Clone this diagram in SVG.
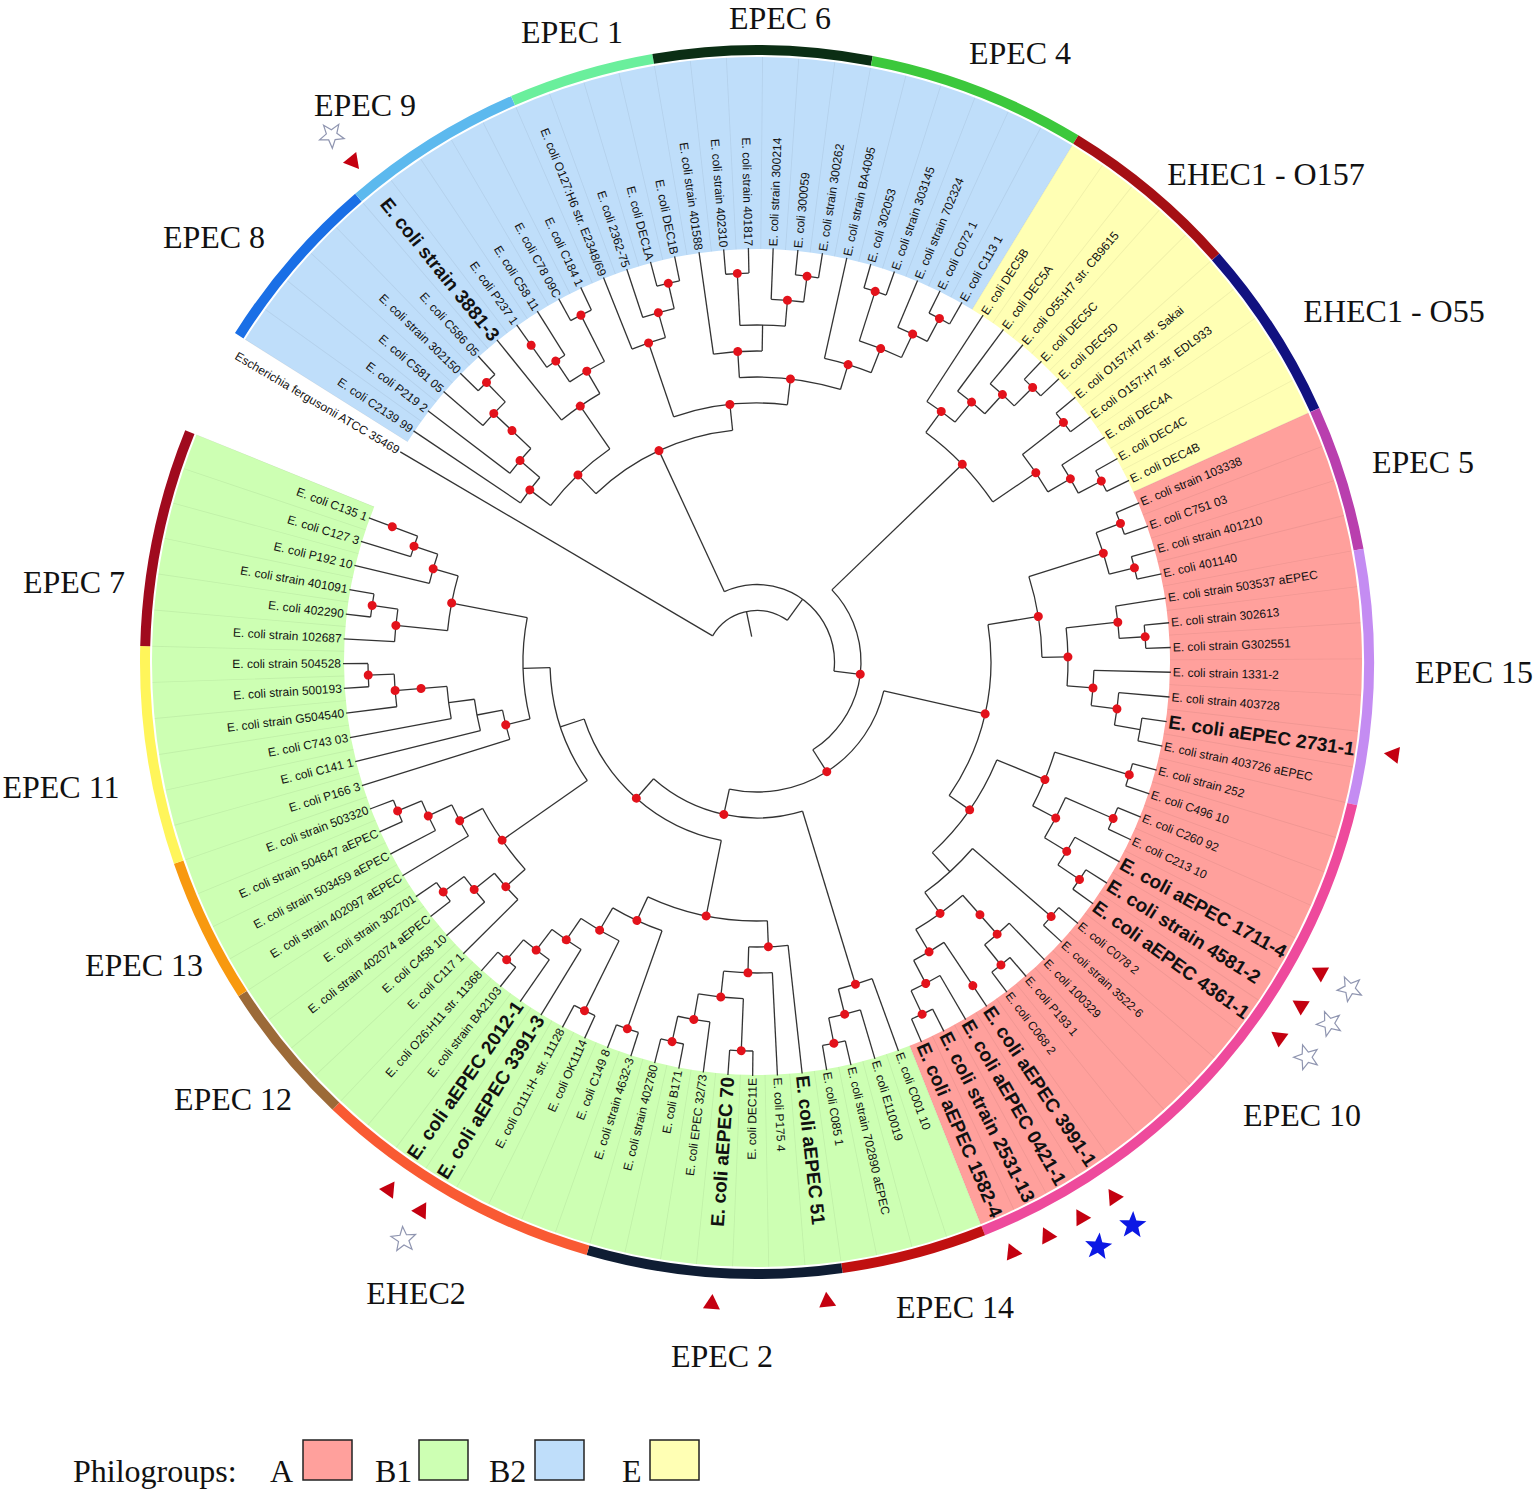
<svg xmlns="http://www.w3.org/2000/svg" xmlns:xlink="http://www.w3.org/1999/xlink" width="1535" height="1494" viewBox="0 0 1535 1494">
<style>
.t{font-family:'Liberation Sans',Arial,sans-serif;font-size:12px;fill:#111;dominant-baseline:central}
.b{font-weight:bold;font-size:19px}
.e{text-anchor:end}
.big{font-family:'Liberation Serif','Times New Roman',serif;font-size:32px;fill:#111;text-anchor:middle}
.w{fill:none;stroke-width:192}
.bar{fill:none;stroke-width:10}
</style>
<defs>
<polygon id="tri" points="-7.5,0 7.5,-8.5 7.5,8.5"/>
<polygon id="star" points="13,0 4.45,3.23 4.02,12.36 -1.7,5.23 -10.52,7.64 -5.5,0 -10.52,-7.64 -1.7,-5.23 4.02,-12.36 4.45,-3.23"/>
</defs>
<rect width="1535" height="1494" fill="#fff"/>
<g transform="translate(757 662)">
<g id="philogroup-wedges">
<circle class="w" r="509" stroke="#bfdefa" pathLength="360" stroke-dasharray="89.18 360" transform="rotate(212.215)"/>
<circle class="w" r="509" stroke="#ffffb4" pathLength="360" stroke-dasharray="34.3 360" transform="rotate(301.395)"/>
<circle class="w" r="509" stroke="#ffa09c" pathLength="360" stroke-dasharray="92.61 360" transform="rotate(335.695)"/>
<circle class="w" r="509" stroke="#cdffb3" pathLength="360" stroke-dasharray="133.77 360" transform="rotate(428.305)"/>
<circle class="w" r="509" stroke="#000" stroke-opacity="0.06" pathLength="360" stroke-dasharray="0.1 3.33" transform="rotate(212.165)"/>
<circle r="509" fill="none" stroke="#fff" stroke-width="194" pathLength="360" stroke-dasharray="10.05 360" transform="rotate(202.12)"/>
</g>
<g id="serotype-ring">
<circle class="bar" r="612" stroke="#1a6fe6" pathLength="360" stroke-dasharray="17.15 360" transform="rotate(212.215)"/>
<circle class="bar" r="612" stroke="#5cb9ee" pathLength="360" stroke-dasharray="17.15 360" transform="rotate(229.365)"/>
<circle class="bar" r="612" stroke="#6aef9c" pathLength="360" stroke-dasharray="13.72 360" transform="rotate(246.515)"/>
<circle class="bar" r="612" stroke="#0b2e14" pathLength="360" stroke-dasharray="20.58 360" transform="rotate(260.235)"/>
<circle class="bar" r="612" stroke="#3cc83c" pathLength="360" stroke-dasharray="20.58 360" transform="rotate(280.815)"/>
<circle class="bar" r="612" stroke="#a50f14" pathLength="360" stroke-dasharray="17.15 360" transform="rotate(301.395)"/>
<circle class="bar" r="612" stroke="#111180" pathLength="360" stroke-dasharray="17.15 360" transform="rotate(318.545)"/>
<circle class="bar" r="612" stroke="#b93fae" pathLength="360" stroke-dasharray="13.72 360" transform="rotate(335.695)"/>
<circle class="bar" r="612" stroke="#c48cf2" pathLength="360" stroke-dasharray="24.01 360" transform="rotate(349.415)"/>
<circle class="bar" r="612" stroke="#ee4a9c" pathLength="360" stroke-dasharray="54.88 360" transform="rotate(373.425)"/>
<circle class="bar" r="612" stroke="#c01010" pathLength="360" stroke-dasharray="13.72 360" transform="rotate(428.305)"/>
<circle class="bar" r="612" stroke="#0f1d33" pathLength="360" stroke-dasharray="24.01 360" transform="rotate(442.025)"/>
<circle class="bar" r="612" stroke="#f95a33" pathLength="360" stroke-dasharray="27.44 360" transform="rotate(466.035)"/>
<circle class="bar" r="612" stroke="#9c6a38" pathLength="360" stroke-dasharray="13.72 360" transform="rotate(493.475)"/>
<circle class="bar" r="612" stroke="#f8990f" pathLength="360" stroke-dasharray="13.72 360" transform="rotate(507.195)"/>
<circle class="bar" r="612" stroke="#fff55a" pathLength="360" stroke-dasharray="20.58 360" transform="rotate(520.915)"/>
<circle class="bar" r="612" stroke="#a00a1e" pathLength="360" stroke-dasharray="20.58 360" transform="rotate(541.495)"/>
</g>
<g id="connectors" fill="none" stroke="#333" stroke-width="1.3">
<circle r="51.5" pathLength="360" stroke-dasharray="95.47 360" transform="rotate(210.5)"/>
<line x1="26" x2="51.5" transform="rotate(258.23)"/>
<line x1="51.5" x2="414" transform="rotate(210.5)"/>
<line x1="51.5" x2="77.5" transform="rotate(305.97)"/>
<circle r="77.5" pathLength="360" stroke-dasharray="121.69 360" transform="rotate(245.12)"/>
<line x1="77.5" x2="233" transform="rotate(245.12)"/>
<line x1="77.5" x2="104" transform="rotate(366.81)"/>
<circle r="104" pathLength="360" stroke-dasharray="101.46 360" transform="rotate(316.08)"/>
<line x1="104" x2="285" transform="rotate(316.08)"/>
<line x1="104" x2="130" transform="rotate(417.54)"/>
<circle r="130" pathLength="360" stroke-dasharray="89.47 360" transform="rotate(372.81)"/>
<line x1="130" x2="234" transform="rotate(372.81)"/>
<line x1="130" x2="156" transform="rotate(462.28)"/>
<circle r="156" pathLength="360" stroke-dasharray="58.51 360" transform="rotate(433.02)"/>
<line x1="156" x2="337" transform="rotate(433.02)"/>
<line x1="156" x2="182" transform="rotate(491.53)"/>
<circle r="182" pathLength="360" stroke-dasharray="60.43 360" transform="rotate(461.32)"/>
<line x1="182" x2="259" transform="rotate(461.32)"/>
<line x1="182" x2="207" transform="rotate(521.75)"/>
<circle r="207" pathLength="360" stroke-dasharray="33.39 360" transform="rotate(505.05)"/>
<line x1="207" x2="311" transform="rotate(505.05)"/>
<line x1="207" x2="234" transform="rotate(538.44)"/>
<circle r="234" pathLength="360" stroke-dasharray="24.98 360" transform="rotate(525.95)"/>
<line x1="234" x2="259" transform="rotate(525.95)"/>
<line x1="234" x2="311" transform="rotate(550.93)"/>
<circle r="259" pathLength="360" stroke-dasharray="6.65 360" transform="rotate(522.63)"/>
<line x1="259" x2="414" transform="rotate(522.63)"/>
<line x1="259" x2="285" transform="rotate(529.28)"/>
<circle r="285" pathLength="360" stroke-dasharray="6.43 360" transform="rotate(526.06)"/>
<line x1="285" x2="414" transform="rotate(526.06)"/>
<line x1="285" x2="311" transform="rotate(532.49)"/>
<circle r="311" pathLength="360" stroke-dasharray="6 360" transform="rotate(529.49)"/>
<line x1="311" x2="414" transform="rotate(529.49)"/>
<line x1="311" x2="363" transform="rotate(535.49)"/>
<circle r="363" pathLength="360" stroke-dasharray="5.15 360" transform="rotate(532.92)"/>
<line x1="363" x2="414" transform="rotate(532.92)"/>
<line x1="363" x2="389" transform="rotate(538.07)"/>
<circle r="389" pathLength="360" stroke-dasharray="3.43 360" transform="rotate(536.35)"/>
<line x1="389" x2="414" transform="rotate(536.35)"/>
<line x1="389" x2="414" transform="rotate(539.78)"/>
<circle r="311" pathLength="360" stroke-dasharray="10.29 360" transform="rotate(545.78)"/>
<line x1="311" x2="363" transform="rotate(545.78)"/>
<line x1="311" x2="337" transform="rotate(556.07)"/>
<circle r="363" pathLength="360" stroke-dasharray="5.15 360" transform="rotate(543.21)"/>
<line x1="363" x2="414" transform="rotate(543.21)"/>
<line x1="363" x2="389" transform="rotate(548.36)"/>
<circle r="389" pathLength="360" stroke-dasharray="3.43 360" transform="rotate(546.64)"/>
<line x1="389" x2="414" transform="rotate(546.64)"/>
<line x1="389" x2="414" transform="rotate(550.07)"/>
<circle r="337" pathLength="360" stroke-dasharray="5.15 360" transform="rotate(553.5)"/>
<line x1="337" x2="414" transform="rotate(553.5)"/>
<line x1="337" x2="362" transform="rotate(558.65)"/>
<circle r="362" pathLength="360" stroke-dasharray="3.43 360" transform="rotate(556.93)"/>
<line x1="362" x2="414" transform="rotate(556.93)"/>
<line x1="362" x2="414" transform="rotate(560.36)"/>
<circle r="311" pathLength="360" stroke-dasharray="13.72 360" transform="rotate(498.19)"/>
<line x1="311" x2="337" transform="rotate(498.19)"/>
<line x1="311" x2="337" transform="rotate(511.91)"/>
<circle r="337" pathLength="360" stroke-dasharray="6 360" transform="rotate(495.19)"/>
<line x1="337" x2="414" transform="rotate(495.19)"/>
<line x1="337" x2="363" transform="rotate(501.19)"/>
<circle r="363" pathLength="360" stroke-dasharray="5.15 360" transform="rotate(498.62)"/>
<line x1="363" x2="414" transform="rotate(498.62)"/>
<line x1="363" x2="389" transform="rotate(503.77)"/>
<circle r="389" pathLength="360" stroke-dasharray="3.43 360" transform="rotate(502.05)"/>
<line x1="389" x2="414" transform="rotate(502.05)"/>
<line x1="389" x2="414" transform="rotate(505.48)"/>
<circle r="337" pathLength="360" stroke-dasharray="6 360" transform="rotate(508.91)"/>
<line x1="337" x2="414" transform="rotate(508.91)"/>
<line x1="337" x2="363" transform="rotate(514.91)"/>
<circle r="363" pathLength="360" stroke-dasharray="5.15 360" transform="rotate(512.34)"/>
<line x1="363" x2="414" transform="rotate(512.34)"/>
<line x1="363" x2="389" transform="rotate(517.49)"/>
<circle r="389" pathLength="360" stroke-dasharray="3.43 360" transform="rotate(515.77)"/>
<line x1="389" x2="414" transform="rotate(515.77)"/>
<line x1="389" x2="414" transform="rotate(519.2)"/>
<circle r="259" pathLength="360" stroke-dasharray="27.22 360" transform="rotate(447.71)"/>
<line x1="259" x2="285" transform="rotate(447.71)"/>
<line x1="259" x2="285" transform="rotate(474.93)"/>
<circle r="285" pathLength="360" stroke-dasharray="7.93 360" transform="rotate(443.74)"/>
<line x1="285" x2="414" transform="rotate(443.74)"/>
<line x1="285" x2="311" transform="rotate(451.67)"/>
<circle r="311" pathLength="360" stroke-dasharray="9 360" transform="rotate(447.17)"/>
<line x1="311" x2="414" transform="rotate(447.17)"/>
<line x1="311" x2="337" transform="rotate(456.17)"/>
<circle r="337" pathLength="360" stroke-dasharray="7.71 360" transform="rotate(452.32)"/>
<line x1="337" x2="389" transform="rotate(452.32)"/>
<line x1="337" x2="363" transform="rotate(460.03)"/>
<circle r="389" pathLength="360" stroke-dasharray="3.43 360" transform="rotate(450.6)"/>
<line x1="389" x2="414" transform="rotate(450.6)"/>
<line x1="389" x2="414" transform="rotate(454.03)"/>
<circle r="363" pathLength="360" stroke-dasharray="5.15 360" transform="rotate(457.46)"/>
<line x1="363" x2="414" transform="rotate(457.46)"/>
<line x1="363" x2="389" transform="rotate(462.61)"/>
<circle r="389" pathLength="360" stroke-dasharray="3.43 360" transform="rotate(460.89)"/>
<line x1="389" x2="414" transform="rotate(460.89)"/>
<line x1="389" x2="414" transform="rotate(464.32)"/>
<circle r="285" pathLength="360" stroke-dasharray="10.93 360" transform="rotate(469.47)"/>
<line x1="285" x2="389" transform="rotate(469.47)"/>
<line x1="285" x2="311" transform="rotate(480.4)"/>
<circle r="389" pathLength="360" stroke-dasharray="3.43 360" transform="rotate(467.75)"/>
<line x1="389" x2="414" transform="rotate(467.75)"/>
<line x1="389" x2="414" transform="rotate(471.18)"/>
<circle r="311" pathLength="360" stroke-dasharray="8.14 360" transform="rotate(476.33)"/>
<line x1="311" x2="389" transform="rotate(476.33)"/>
<line x1="311" x2="337" transform="rotate(484.47)"/>
<circle r="389" pathLength="360" stroke-dasharray="3.43 360" transform="rotate(474.61)"/>
<line x1="389" x2="414" transform="rotate(474.61)"/>
<line x1="389" x2="414" transform="rotate(478.04)"/>
<circle r="337" pathLength="360" stroke-dasharray="6 360" transform="rotate(481.47)"/>
<line x1="337" x2="414" transform="rotate(481.47)"/>
<line x1="337" x2="363" transform="rotate(487.47)"/>
<circle r="363" pathLength="360" stroke-dasharray="5.15 360" transform="rotate(484.9)"/>
<line x1="363" x2="414" transform="rotate(484.9)"/>
<line x1="363" x2="389" transform="rotate(490.05)"/>
<circle r="389" pathLength="360" stroke-dasharray="3.43 360" transform="rotate(488.33)"/>
<line x1="389" x2="414" transform="rotate(488.33)"/>
<line x1="389" x2="414" transform="rotate(491.76)"/>
<circle r="337" pathLength="360" stroke-dasharray="6 360" transform="rotate(430.02)"/>
<line x1="337" x2="414" transform="rotate(430.02)"/>
<line x1="337" x2="363" transform="rotate(436.02)"/>
<circle r="363" pathLength="360" stroke-dasharray="5.15 360" transform="rotate(433.45)"/>
<line x1="363" x2="414" transform="rotate(433.45)"/>
<line x1="363" x2="389" transform="rotate(438.6)"/>
<circle r="389" pathLength="360" stroke-dasharray="3.43 360" transform="rotate(436.88)"/>
<line x1="389" x2="414" transform="rotate(436.88)"/>
<line x1="389" x2="414" transform="rotate(440.31)"/>
<circle r="234" pathLength="360" stroke-dasharray="44 360" transform="rotate(350.81)"/>
<line x1="234" x2="285" transform="rotate(350.81)"/>
<line x1="234" x2="259" transform="rotate(394.81)"/>
<circle r="285" pathLength="360" stroke-dasharray="16.5 360" transform="rotate(342.56)"/>
<line x1="285" x2="363" transform="rotate(342.56)"/>
<line x1="285" x2="311" transform="rotate(359.06)"/>
<circle r="363" pathLength="360" stroke-dasharray="6.86 360" transform="rotate(339.13)"/>
<line x1="363" x2="389" transform="rotate(339.13)"/>
<line x1="363" x2="389" transform="rotate(345.99)"/>
<circle r="389" pathLength="360" stroke-dasharray="3.43 360" transform="rotate(337.41)"/>
<line x1="389" x2="414" transform="rotate(337.41)"/>
<line x1="389" x2="414" transform="rotate(340.84)"/>
<circle r="389" pathLength="360" stroke-dasharray="3.43 360" transform="rotate(344.27)"/>
<line x1="389" x2="414" transform="rotate(344.27)"/>
<line x1="389" x2="414" transform="rotate(347.7)"/>
<circle r="311" pathLength="360" stroke-dasharray="10.72 360" transform="rotate(353.7)"/>
<line x1="311" x2="363" transform="rotate(353.7)"/>
<line x1="311" x2="337" transform="rotate(364.42)"/>
<circle r="363" pathLength="360" stroke-dasharray="5.15 360" transform="rotate(351.13)"/>
<line x1="363" x2="414" transform="rotate(351.13)"/>
<line x1="363" x2="389" transform="rotate(356.28)"/>
<circle r="389" pathLength="360" stroke-dasharray="3.43 360" transform="rotate(354.56)"/>
<line x1="389" x2="414" transform="rotate(354.56)"/>
<line x1="389" x2="414" transform="rotate(357.99)"/>
<circle r="337" pathLength="360" stroke-dasharray="6 360" transform="rotate(361.42)"/>
<line x1="337" x2="414" transform="rotate(361.42)"/>
<line x1="337" x2="363" transform="rotate(367.42)"/>
<circle r="363" pathLength="360" stroke-dasharray="5.15 360" transform="rotate(364.85)"/>
<line x1="363" x2="414" transform="rotate(364.85)"/>
<line x1="363" x2="389" transform="rotate(370)"/>
<circle r="389" pathLength="360" stroke-dasharray="3.43 360" transform="rotate(368.28)"/>
<line x1="389" x2="414" transform="rotate(368.28)"/>
<line x1="389" x2="414" transform="rotate(371.71)"/>
<circle r="259" pathLength="360" stroke-dasharray="25.19 360" transform="rotate(382.21)"/>
<line x1="259" x2="311" transform="rotate(382.21)"/>
<line x1="259" x2="285" transform="rotate(407.4)"/>
<circle r="311" pathLength="360" stroke-dasharray="10.71 360" transform="rotate(376.86)"/>
<line x1="311" x2="389" transform="rotate(376.86)"/>
<line x1="311" x2="337" transform="rotate(387.57)"/>
<circle r="389" pathLength="360" stroke-dasharray="3.43 360" transform="rotate(375.14)"/>
<line x1="389" x2="414" transform="rotate(375.14)"/>
<line x1="389" x2="414" transform="rotate(378.57)"/>
<circle r="337" pathLength="360" stroke-dasharray="7.71 360" transform="rotate(383.72)"/>
<line x1="337" x2="389" transform="rotate(383.72)"/>
<line x1="337" x2="363" transform="rotate(391.43)"/>
<circle r="389" pathLength="360" stroke-dasharray="3.43 360" transform="rotate(382)"/>
<line x1="389" x2="414" transform="rotate(382)"/>
<line x1="389" x2="414" transform="rotate(385.43)"/>
<circle r="363" pathLength="360" stroke-dasharray="5.14 360" transform="rotate(388.86)"/>
<line x1="363" x2="414" transform="rotate(388.86)"/>
<line x1="363" x2="389" transform="rotate(394)"/>
<circle r="389" pathLength="360" stroke-dasharray="3.43 360" transform="rotate(392.29)"/>
<line x1="389" x2="414" transform="rotate(392.29)"/>
<line x1="389" x2="414" transform="rotate(395.72)"/>
<circle r="285" pathLength="360" stroke-dasharray="13.07 360" transform="rotate(400.87)"/>
<line x1="285" x2="389" transform="rotate(400.87)"/>
<line x1="285" x2="311" transform="rotate(413.94)"/>
<circle r="389" pathLength="360" stroke-dasharray="3.43 360" transform="rotate(399.15)"/>
<line x1="389" x2="414" transform="rotate(399.15)"/>
<line x1="389" x2="414" transform="rotate(402.58)"/>
<circle r="311" pathLength="360" stroke-dasharray="10.72 360" transform="rotate(408.58)"/>
<line x1="311" x2="363" transform="rotate(408.58)"/>
<line x1="311" x2="337" transform="rotate(419.3)"/>
<circle r="363" pathLength="360" stroke-dasharray="5.15 360" transform="rotate(406.01)"/>
<line x1="363" x2="414" transform="rotate(406.01)"/>
<line x1="363" x2="389" transform="rotate(411.16)"/>
<circle r="389" pathLength="360" stroke-dasharray="3.43 360" transform="rotate(409.44)"/>
<line x1="389" x2="414" transform="rotate(409.44)"/>
<line x1="389" x2="414" transform="rotate(412.87)"/>
<circle r="337" pathLength="360" stroke-dasharray="6 360" transform="rotate(416.3)"/>
<line x1="337" x2="414" transform="rotate(416.3)"/>
<line x1="337" x2="363" transform="rotate(422.3)"/>
<circle r="363" pathLength="360" stroke-dasharray="5.15 360" transform="rotate(419.73)"/>
<line x1="363" x2="414" transform="rotate(419.73)"/>
<line x1="363" x2="389" transform="rotate(424.88)"/>
<circle r="389" pathLength="360" stroke-dasharray="3.43 360" transform="rotate(423.16)"/>
<line x1="389" x2="414" transform="rotate(423.16)"/>
<line x1="389" x2="414" transform="rotate(426.59)"/>
<circle r="285" pathLength="360" stroke-dasharray="19.5 360" transform="rotate(306.33)"/>
<line x1="285" x2="311" transform="rotate(306.33)"/>
<line x1="285" x2="337" transform="rotate(325.83)"/>
<circle r="311" pathLength="360" stroke-dasharray="6.43 360" transform="rotate(303.11)"/>
<line x1="311" x2="414" transform="rotate(303.11)"/>
<line x1="311" x2="337" transform="rotate(309.54)"/>
<circle r="337" pathLength="360" stroke-dasharray="6 360" transform="rotate(306.54)"/>
<line x1="337" x2="414" transform="rotate(306.54)"/>
<line x1="337" x2="363" transform="rotate(312.54)"/>
<circle r="363" pathLength="360" stroke-dasharray="5.15 360" transform="rotate(309.97)"/>
<line x1="363" x2="414" transform="rotate(309.97)"/>
<line x1="363" x2="389" transform="rotate(315.12)"/>
<circle r="389" pathLength="360" stroke-dasharray="3.43 360" transform="rotate(313.4)"/>
<line x1="389" x2="414" transform="rotate(313.4)"/>
<line x1="389" x2="414" transform="rotate(316.83)"/>
<circle r="337" pathLength="360" stroke-dasharray="7.71 360" transform="rotate(321.98)"/>
<line x1="337" x2="389" transform="rotate(321.98)"/>
<line x1="337" x2="363" transform="rotate(329.69)"/>
<circle r="389" pathLength="360" stroke-dasharray="3.43 360" transform="rotate(320.26)"/>
<line x1="389" x2="414" transform="rotate(320.26)"/>
<line x1="389" x2="414" transform="rotate(323.69)"/>
<circle r="363" pathLength="360" stroke-dasharray="5.15 360" transform="rotate(327.12)"/>
<line x1="363" x2="414" transform="rotate(327.12)"/>
<line x1="363" x2="389" transform="rotate(332.27)"/>
<circle r="389" pathLength="360" stroke-dasharray="3.43 360" transform="rotate(330.55)"/>
<line x1="389" x2="414" transform="rotate(330.55)"/>
<line x1="389" x2="414" transform="rotate(333.98)"/>
<circle r="233" pathLength="360" stroke-dasharray="37.73 360" transform="rotate(226.26)"/>
<line x1="233" x2="259" transform="rotate(226.26)"/>
<line x1="233" x2="259" transform="rotate(263.99)"/>
<circle r="259" pathLength="360" stroke-dasharray="18.22 360" transform="rotate(217.15)"/>
<line x1="259" x2="285" transform="rotate(217.15)"/>
<line x1="259" x2="311" transform="rotate(235.37)"/>
<circle r="285" pathLength="360" stroke-dasharray="6.43 360" transform="rotate(213.93)"/>
<line x1="285" x2="414" transform="rotate(213.93)"/>
<line x1="285" x2="311" transform="rotate(220.36)"/>
<circle r="311" pathLength="360" stroke-dasharray="6 360" transform="rotate(217.36)"/>
<line x1="311" x2="414" transform="rotate(217.36)"/>
<line x1="311" x2="362" transform="rotate(223.36)"/>
<circle r="362" pathLength="360" stroke-dasharray="5.15 360" transform="rotate(220.79)"/>
<line x1="362" x2="414" transform="rotate(220.79)"/>
<line x1="362" x2="389" transform="rotate(225.94)"/>
<circle r="389" pathLength="360" stroke-dasharray="3.43 360" transform="rotate(224.22)"/>
<line x1="389" x2="414" transform="rotate(224.22)"/>
<line x1="389" x2="414" transform="rotate(227.65)"/>
<circle r="311" pathLength="360" stroke-dasharray="8.58 360" transform="rotate(231.08)"/>
<line x1="311" x2="414" transform="rotate(231.08)"/>
<line x1="311" x2="337" transform="rotate(239.66)"/>
<circle r="337" pathLength="360" stroke-dasharray="6.86 360" transform="rotate(236.23)"/>
<line x1="337" x2="362" transform="rotate(236.23)"/>
<line x1="337" x2="389" transform="rotate(243.09)"/>
<circle r="362" pathLength="360" stroke-dasharray="3.43 360" transform="rotate(234.51)"/>
<line x1="362" x2="414" transform="rotate(234.51)"/>
<line x1="362" x2="414" transform="rotate(237.94)"/>
<circle r="389" pathLength="360" stroke-dasharray="3.43 360" transform="rotate(241.37)"/>
<line x1="389" x2="414" transform="rotate(241.37)"/>
<line x1="389" x2="414" transform="rotate(244.8)"/>
<circle r="259" pathLength="360" stroke-dasharray="25.51 360" transform="rotate(251.23)"/>
<line x1="259" x2="337" transform="rotate(251.23)"/>
<line x1="259" x2="285" transform="rotate(276.74)"/>
<circle r="337" pathLength="360" stroke-dasharray="6 360" transform="rotate(248.23)"/>
<line x1="337" x2="414" transform="rotate(248.23)"/>
<line x1="337" x2="363" transform="rotate(254.23)"/>
<circle r="363" pathLength="360" stroke-dasharray="5.15 360" transform="rotate(251.66)"/>
<line x1="363" x2="414" transform="rotate(251.66)"/>
<line x1="363" x2="389" transform="rotate(256.81)"/>
<circle r="389" pathLength="360" stroke-dasharray="3.43 360" transform="rotate(255.09)"/>
<line x1="389" x2="414" transform="rotate(255.09)"/>
<line x1="389" x2="414" transform="rotate(258.52)"/>
<circle r="285" pathLength="360" stroke-dasharray="20.58 360" transform="rotate(266.45)"/>
<line x1="285" x2="311" transform="rotate(266.45)"/>
<line x1="285" x2="311" transform="rotate(287.03)"/>
<circle r="311" pathLength="360" stroke-dasharray="9 360" transform="rotate(261.95)"/>
<line x1="311" x2="414" transform="rotate(261.95)"/>
<line x1="311" x2="337" transform="rotate(270.95)"/>
<circle r="337" pathLength="360" stroke-dasharray="7.71 360" transform="rotate(267.1)"/>
<line x1="337" x2="389" transform="rotate(267.1)"/>
<line x1="337" x2="363" transform="rotate(274.81)"/>
<circle r="389" pathLength="360" stroke-dasharray="3.43 360" transform="rotate(265.38)"/>
<line x1="389" x2="414" transform="rotate(265.38)"/>
<line x1="389" x2="414" transform="rotate(268.81)"/>
<circle r="363" pathLength="360" stroke-dasharray="5.15 360" transform="rotate(272.24)"/>
<line x1="363" x2="414" transform="rotate(272.24)"/>
<line x1="363" x2="389" transform="rotate(277.39)"/>
<circle r="389" pathLength="360" stroke-dasharray="3.43 360" transform="rotate(275.67)"/>
<line x1="389" x2="414" transform="rotate(275.67)"/>
<line x1="389" x2="414" transform="rotate(279.1)"/>
<circle r="311" pathLength="360" stroke-dasharray="9 360" transform="rotate(282.53)"/>
<line x1="311" x2="414" transform="rotate(282.53)"/>
<line x1="311" x2="337" transform="rotate(291.53)"/>
<circle r="337" pathLength="360" stroke-dasharray="7.71 360" transform="rotate(287.68)"/>
<line x1="337" x2="389" transform="rotate(287.68)"/>
<line x1="337" x2="363" transform="rotate(295.39)"/>
<circle r="389" pathLength="360" stroke-dasharray="3.43 360" transform="rotate(285.96)"/>
<line x1="389" x2="414" transform="rotate(285.96)"/>
<line x1="389" x2="414" transform="rotate(289.39)"/>
<circle r="363" pathLength="360" stroke-dasharray="5.15 360" transform="rotate(292.82)"/>
<line x1="363" x2="414" transform="rotate(292.82)"/>
<line x1="363" x2="389" transform="rotate(297.97)"/>
<circle r="389" pathLength="360" stroke-dasharray="3.43 360" transform="rotate(296.25)"/>
<line x1="389" x2="414" transform="rotate(296.25)"/>
<line x1="389" x2="414" transform="rotate(299.68)"/>
</g>
<g id="support-dots" fill="#e3121b">
<circle cx="104" r="4.5" transform="rotate(366.81)"/>
<circle cx="130" r="4.5" transform="rotate(417.54)"/>
<circle cx="156" r="4.5" transform="rotate(462.28)"/>
<circle cx="182" r="4.5" transform="rotate(491.53)"/>
<circle cx="259" r="4.5" transform="rotate(525.95)"/>
<circle cx="363" r="4.5" transform="rotate(535.49)"/>
<circle cx="337" r="4.5" transform="rotate(535.49)"/>
<circle cx="389" r="4.5" transform="rotate(538.07)"/>
<circle cx="311" r="4.5" transform="rotate(550.93)"/>
<circle cx="363" r="4.5" transform="rotate(545.78)"/>
<circle cx="389" r="4.5" transform="rotate(548.36)"/>
<circle cx="337" r="4.5" transform="rotate(556.07)"/>
<circle cx="362" r="4.5" transform="rotate(558.65)"/>
<circle cx="389" r="4.5" transform="rotate(560.36)"/>
<circle cx="311" r="4.5" transform="rotate(505.05)"/>
<circle cx="337" r="4.5" transform="rotate(498.19)"/>
<circle cx="363" r="4.5" transform="rotate(501.19)"/>
<circle cx="389" r="4.5" transform="rotate(503.77)"/>
<circle cx="337" r="4.5" transform="rotate(511.91)"/>
<circle cx="363" r="4.5" transform="rotate(514.91)"/>
<circle cx="389" r="4.5" transform="rotate(517.49)"/>
<circle cx="259" r="4.5" transform="rotate(461.32)"/>
<circle cx="285" r="4.5" transform="rotate(447.71)"/>
<circle cx="311" r="4.5" transform="rotate(451.67)"/>
<circle cx="337" r="4.5" transform="rotate(456.17)"/>
<circle cx="389" r="4.5" transform="rotate(452.32)"/>
<circle cx="363" r="4.5" transform="rotate(460.03)"/>
<circle cx="389" r="4.5" transform="rotate(462.61)"/>
<circle cx="285" r="4.5" transform="rotate(474.93)"/>
<circle cx="389" r="4.5" transform="rotate(469.47)"/>
<circle cx="311" r="4.5" transform="rotate(480.4)"/>
<circle cx="389" r="4.5" transform="rotate(476.33)"/>
<circle cx="337" r="4.5" transform="rotate(484.47)"/>
<circle cx="363" r="4.5" transform="rotate(487.47)"/>
<circle cx="389" r="4.5" transform="rotate(490.05)"/>
<circle cx="337" r="4.5" transform="rotate(433.02)"/>
<circle cx="363" r="4.5" transform="rotate(436.02)"/>
<circle cx="389" r="4.5" transform="rotate(438.6)"/>
<circle cx="234" r="4.5" transform="rotate(372.81)"/>
<circle cx="285" r="4.5" transform="rotate(350.81)"/>
<circle cx="363" r="4.5" transform="rotate(342.56)"/>
<circle cx="389" r="4.5" transform="rotate(339.13)"/>
<circle cx="389" r="4.5" transform="rotate(345.99)"/>
<circle cx="311" r="4.5" transform="rotate(359.06)"/>
<circle cx="363" r="4.5" transform="rotate(353.7)"/>
<circle cx="389" r="4.5" transform="rotate(356.28)"/>
<circle cx="337" r="4.5" transform="rotate(364.42)"/>
<circle cx="363" r="4.5" transform="rotate(367.42)"/>
<circle cx="259" r="4.5" transform="rotate(394.81)"/>
<circle cx="311" r="4.5" transform="rotate(382.21)"/>
<circle cx="389" r="4.5" transform="rotate(376.86)"/>
<circle cx="337" r="4.5" transform="rotate(387.57)"/>
<circle cx="389" r="4.5" transform="rotate(383.72)"/>
<circle cx="363" r="4.5" transform="rotate(391.43)"/>
<circle cx="389" r="4.5" transform="rotate(394)"/>
<circle cx="389" r="4.5" transform="rotate(400.87)"/>
<circle cx="311" r="4.5" transform="rotate(413.94)"/>
<circle cx="363" r="4.5" transform="rotate(408.58)"/>
<circle cx="337" r="4.5" transform="rotate(408.58)"/>
<circle cx="389" r="4.5" transform="rotate(411.16)"/>
<circle cx="337" r="4.5" transform="rotate(419.3)"/>
<circle cx="389" r="4.5" transform="rotate(416.3)"/>
<circle cx="363" r="4.5" transform="rotate(422.3)"/>
<circle cx="389" r="4.5" transform="rotate(424.88)"/>
<circle cx="285" r="4.5" transform="rotate(316.08)"/>
<circle cx="311" r="4.5" transform="rotate(306.33)"/>
<circle cx="337" r="4.5" transform="rotate(309.54)"/>
<circle cx="363" r="4.5" transform="rotate(312.54)"/>
<circle cx="389" r="4.5" transform="rotate(315.12)"/>
<circle cx="337" r="4.5" transform="rotate(325.83)"/>
<circle cx="389" r="4.5" transform="rotate(321.98)"/>
<circle cx="363" r="4.5" transform="rotate(329.69)"/>
<circle cx="389" r="4.5" transform="rotate(332.27)"/>
<circle cx="233" r="4.5" transform="rotate(245.12)"/>
<circle cx="259" r="4.5" transform="rotate(226.26)"/>
<circle cx="285" r="4.5" transform="rotate(217.15)"/>
<circle cx="311" r="4.5" transform="rotate(220.36)"/>
<circle cx="362" r="4.5" transform="rotate(223.36)"/>
<circle cx="337" r="4.5" transform="rotate(223.36)"/>
<circle cx="389" r="4.5" transform="rotate(225.94)"/>
<circle cx="311" r="4.5" transform="rotate(235.37)"/>
<circle cx="337" r="4.5" transform="rotate(239.66)"/>
<circle cx="362" r="4.5" transform="rotate(236.23)"/>
<circle cx="389" r="4.5" transform="rotate(234.51)"/>
<circle cx="389" r="4.5" transform="rotate(243.09)"/>
<circle cx="259" r="4.5" transform="rotate(263.99)"/>
<circle cx="337" r="4.5" transform="rotate(251.23)"/>
<circle cx="363" r="4.5" transform="rotate(254.23)"/>
<circle cx="389" r="4.5" transform="rotate(256.81)"/>
<circle cx="285" r="4.5" transform="rotate(276.74)"/>
<circle cx="311" r="4.5" transform="rotate(266.45)"/>
<circle cx="389" r="4.5" transform="rotate(267.1)"/>
<circle cx="363" r="4.5" transform="rotate(274.81)"/>
<circle cx="389" r="4.5" transform="rotate(277.39)"/>
<circle cx="311" r="4.5" transform="rotate(287.03)"/>
<circle cx="337" r="4.5" transform="rotate(291.53)"/>
<circle cx="389" r="4.5" transform="rotate(287.68)"/>
<circle cx="363" r="4.5" transform="rotate(295.39)"/>
<circle cx="389" r="4.5" transform="rotate(297.97)"/>
</g>
<g id="leaves">
<g id="leaf1"><text class="t e" x="-416" transform="rotate(30.5)">Escherichia fergusonii ATCC 35469</text></g>
<g id="leaf2"><text class="t e" x="-416" transform="rotate(33.93)">E. coli C2139 99</text></g>
<g id="leaf3"><text class="t e" x="-416" transform="rotate(37.36)">E. coli P219 2</text></g>
<g id="leaf4"><text class="t e" x="-416" transform="rotate(40.79)">E. coli C581 05</text></g>
<g id="leaf5"><text class="t e" x="-416" transform="rotate(44.22)">E. coli strain 302150</text></g>
<g id="leaf6"><text class="t e" x="-416" transform="rotate(47.65)">E. coli C586 05</text></g>
<g id="leaf7"><text class="t b e" x="-416" transform="rotate(51.08)">E. coli strain 3881-3</text></g>
<g id="leaf8"><text class="t e" x="-416" transform="rotate(54.51)">E. coli P237 1</text></g>
<g id="leaf9"><text class="t e" x="-416" transform="rotate(57.94)">E. coli C58 11</text></g>
<g id="leaf10"><text class="t e" x="-416" transform="rotate(61.37)">E. coli C78 09C</text></g>
<g id="leaf11"><text class="t e" x="-416" transform="rotate(64.8)">E. coli C184 1</text></g>
<g id="leaf12"><text class="t e" x="-416" transform="rotate(68.23)">E. coli O127:H6 str. E2348/69</text></g>
<g id="leaf13"><text class="t e" x="-416" transform="rotate(71.66)">E. coli 2362-75</text></g>
<g id="leaf14"><text class="t e" x="-416" transform="rotate(75.09)">E. coli DEC1A</text></g>
<g id="leaf15"><text class="t e" x="-416" transform="rotate(78.52)">E. coli DEC1B</text></g>
<g id="leaf16"><text class="t e" x="-416" transform="rotate(81.95)">E. coli strain 401588</text></g>
<g id="leaf17"><text class="t e" x="-416" transform="rotate(85.38)">E. coli strain 402310</text></g>
<g id="leaf18"><text class="t e" x="-416" transform="rotate(88.81)">E. coli strain 401817</text></g>
<g id="leaf19"><text class="t" x="416" transform="rotate(272.24)">E. coli strain 300214</text></g>
<g id="leaf20"><text class="t" x="416" transform="rotate(275.67)">E. coli 300059</text></g>
<g id="leaf21"><text class="t" x="416" transform="rotate(279.1)">E. coli strain 300262</text></g>
<g id="leaf22"><text class="t" x="416" transform="rotate(282.53)">E. coli strain BA4095</text></g>
<g id="leaf23"><text class="t" x="416" transform="rotate(285.96)">E. coli 302053</text></g>
<g id="leaf24"><text class="t" x="416" transform="rotate(289.39)">E. coli strain 303145</text></g>
<g id="leaf25"><text class="t" x="416" transform="rotate(292.82)">E. coli strain 702324</text></g>
<g id="leaf26"><text class="t" x="416" transform="rotate(296.25)">E. coli C072 1</text></g>
<g id="leaf27"><text class="t" x="416" transform="rotate(299.68)">E. coli C113 1</text></g>
<g id="leaf28"><text class="t" x="416" transform="rotate(303.11)">E. coli DEC5B</text></g>
<g id="leaf29"><text class="t" x="416" transform="rotate(306.54)">E. coli DEC5A</text></g>
<g id="leaf30"><text class="t" x="416" transform="rotate(309.97)">E. coli O55:H7 str. CB9615</text></g>
<g id="leaf31"><text class="t" x="416" transform="rotate(313.4)">E. coli DEC5C</text></g>
<g id="leaf32"><text class="t" x="416" transform="rotate(316.83)">E. coli DEC5D</text></g>
<g id="leaf33"><text class="t" x="416" transform="rotate(320.26)">E. coli O157:H7 str. Sakai</text></g>
<g id="leaf34"><text class="t" x="416" transform="rotate(323.69)">E.coli O157:H7 str. EDL933</text></g>
<g id="leaf35"><text class="t" x="416" transform="rotate(327.12)">E. coli DEC4A</text></g>
<g id="leaf36"><text class="t" x="416" transform="rotate(330.55)">E. coli DEC4C</text></g>
<g id="leaf37"><text class="t" x="416" transform="rotate(333.98)">E. coli DEC4B</text></g>
<g id="leaf38"><text class="t" x="416" transform="rotate(337.41)">E. coli strain 103338</text></g>
<g id="leaf39"><text class="t" x="416" transform="rotate(340.84)">E. coli C751 03</text></g>
<g id="leaf40"><text class="t" x="416" transform="rotate(344.27)">E. coli strain 401210</text></g>
<g id="leaf41"><text class="t" x="416" transform="rotate(347.7)">E. coli 401140</text></g>
<g id="leaf42"><text class="t" x="416" transform="rotate(351.13)">E. coli strain 503537 aEPEC</text></g>
<g id="leaf43"><text class="t" x="416" transform="rotate(354.56)">E. coli strain 302613</text></g>
<g id="leaf44"><text class="t" x="416" transform="rotate(357.99)">E. coli strain G302551</text></g>
<g id="leaf45"><text class="t" x="416" transform="rotate(361.42)">E. coli strain 1331-2</text></g>
<g id="leaf46"><text class="t" x="416" transform="rotate(364.85)">E. coli strain 403728</text></g>
<g id="leaf47"><text class="t b" x="416" transform="rotate(368.28)">E. coli aEPEC 2731-1</text></g>
<g id="leaf48"><text class="t" x="416" transform="rotate(371.71)">E. coli strain 403726 aEPEC</text></g>
<g id="leaf49"><text class="t" x="416" transform="rotate(375.14)">E. coli strain 252</text></g>
<g id="leaf50"><text class="t" x="416" transform="rotate(378.57)">E. coli C496 10</text></g>
<g id="leaf51"><text class="t" x="416" transform="rotate(382)">E. coli C260 92</text></g>
<g id="leaf52"><text class="t" x="416" transform="rotate(385.43)">E. coli C213 10</text></g>
<g id="leaf53"><text class="t b" x="416" transform="rotate(388.86)">E. coli aEPEC 1711-4</text></g>
<g id="leaf54"><text class="t b" x="416" transform="rotate(392.29)">E. coli strain 4581-2</text></g>
<g id="leaf55"><text class="t b" x="416" transform="rotate(395.72)">E. coli aEPEC 4361-1</text></g>
<g id="leaf56"><text class="t" x="416" transform="rotate(399.15)">E. coli C078 2</text></g>
<g id="leaf57"><text class="t" x="416" transform="rotate(402.58)">E. coli strain 3522-6</text></g>
<g id="leaf58"><text class="t" x="416" transform="rotate(406.01)">E. coli 100329</text></g>
<g id="leaf59"><text class="t" x="416" transform="rotate(409.44)">E. coli P193 1</text></g>
<g id="leaf60"><text class="t" x="416" transform="rotate(412.87)">E. coli C068 2</text></g>
<g id="leaf61"><text class="t b" x="416" transform="rotate(416.3)">E. coli aEPEC 3991-1</text></g>
<g id="leaf62"><text class="t b" x="416" transform="rotate(419.73)">E. coli aEPEC 0421-1</text></g>
<g id="leaf63"><text class="t b" x="416" transform="rotate(423.16)">E. coli strain 2531-13</text></g>
<g id="leaf64"><text class="t b" x="416" transform="rotate(426.59)">E. coli aEPEC 1582-4</text></g>
<g id="leaf65"><text class="t" x="416" transform="rotate(430.02)">E. coli C001 10</text></g>
<g id="leaf66"><text class="t" x="416" transform="rotate(433.45)">E. coli E110019</text></g>
<g id="leaf67"><text class="t" x="416" transform="rotate(436.88)">E. coli strain 702890 aEPEC</text></g>
<g id="leaf68"><text class="t" x="416" transform="rotate(440.31)">E. coli C085 1</text></g>
<g id="leaf69"><text class="t b" x="416" transform="rotate(443.74)">E. coli aEPEC 51</text></g>
<g id="leaf70"><text class="t" x="416" transform="rotate(447.17)">E. coli P175 4</text></g>
<g id="leaf71"><text class="t e" x="-416" transform="rotate(270.6)">E. coli DEC11E</text></g>
<g id="leaf72"><text class="t b e" x="-416" transform="rotate(274.03)">E. coli aEPEC 70</text></g>
<g id="leaf73"><text class="t e" x="-416" transform="rotate(277.46)">E. coli EPEC 32/73</text></g>
<g id="leaf74"><text class="t e" x="-416" transform="rotate(280.89)">E. coli B171</text></g>
<g id="leaf75"><text class="t e" x="-416" transform="rotate(284.32)">E. coli strain 402780</text></g>
<g id="leaf76"><text class="t e" x="-416" transform="rotate(287.75)">E. coli strain 4632-3</text></g>
<g id="leaf77"><text class="t e" x="-416" transform="rotate(291.18)">E. coli C149 8</text></g>
<g id="leaf78"><text class="t e" x="-416" transform="rotate(294.61)">E. coli OK1114</text></g>
<g id="leaf79"><text class="t e" x="-416" transform="rotate(298.04)">E. coli O111:H- str. 11128</text></g>
<g id="leaf80"><text class="t b e" x="-416" transform="rotate(301.47)">E. coli aEPEC 3391-3</text></g>
<g id="leaf81"><text class="t b e" x="-416" transform="rotate(304.9)">E. coli aEPEC 2012-1</text></g>
<g id="leaf82"><text class="t e" x="-416" transform="rotate(308.33)">E. coli strain BA2103</text></g>
<g id="leaf83"><text class="t e" x="-416" transform="rotate(311.76)">E. coli O26:H11 str. 11368</text></g>
<g id="leaf84"><text class="t e" x="-416" transform="rotate(315.19)">E. coli C117 1</text></g>
<g id="leaf85"><text class="t e" x="-416" transform="rotate(318.62)">E. coli C458 10</text></g>
<g id="leaf86"><text class="t e" x="-416" transform="rotate(322.05)">E. coli strain 402074 aEPEC</text></g>
<g id="leaf87"><text class="t e" x="-416" transform="rotate(325.48)">E. coli strain 302701</text></g>
<g id="leaf88"><text class="t e" x="-416" transform="rotate(328.91)">E. coli strain 402097 aEPEC</text></g>
<g id="leaf89"><text class="t e" x="-416" transform="rotate(332.34)">E. coli strain 503459 aEPEC</text></g>
<g id="leaf90"><text class="t e" x="-416" transform="rotate(335.77)">E. coli strain 504647 aEPEC</text></g>
<g id="leaf91"><text class="t e" x="-416" transform="rotate(339.2)">E. coli strain 503320</text></g>
<g id="leaf92"><text class="t e" x="-416" transform="rotate(342.63)">E. coli P166 3</text></g>
<g id="leaf93"><text class="t e" x="-416" transform="rotate(346.06)">E. coli C141 1</text></g>
<g id="leaf94"><text class="t e" x="-416" transform="rotate(349.49)">E. coli C743 03</text></g>
<g id="leaf95"><text class="t e" x="-416" transform="rotate(352.92)">E. coli strain G504540</text></g>
<g id="leaf96"><text class="t e" x="-416" transform="rotate(356.35)">E. coli strain 500193</text></g>
<g id="leaf97"><text class="t e" x="-416" transform="rotate(359.78)">E. coli strain 504528</text></g>
<g id="leaf98"><text class="t e" x="-416" transform="rotate(363.21)">E. coli strain 102687</text></g>
<g id="leaf99"><text class="t e" x="-416" transform="rotate(366.64)">E. coli 402290</text></g>
<g id="leaf100"><text class="t e" x="-416" transform="rotate(370.07)">E. coli strain 401091</text></g>
<g id="leaf101"><text class="t e" x="-416" transform="rotate(373.5)">E. coli P192 10</text></g>
<g id="leaf102"><text class="t e" x="-416" transform="rotate(376.93)">E. coli C127 3</text></g>
<g id="leaf103"><text class="t e" x="-416" transform="rotate(380.36)">E. coli C135 1</text></g>
</g>
<g id="markers">
<g fill="#c40010">
<use href="#tri" transform="rotate(231.08) translate(641 0)"/>
<use href="#tri" transform="rotate(368.28) translate(641 0)"/>
<use href="#tri" transform="rotate(388.86) translate(641 0)"/>
<use href="#tri" transform="rotate(392.29) translate(641 0)"/>
<use href="#tri" transform="rotate(395.72) translate(641 0)"/>
<use href="#tri" transform="rotate(416.3) translate(641 0)"/>
<use href="#tri" transform="rotate(419.73) translate(641 0)"/>
<use href="#tri" transform="rotate(423.16) translate(641 0)"/>
<use href="#tri" transform="rotate(426.59) translate(641 0)"/>
<use href="#tri" transform="rotate(443.74) translate(641 0)"/>
<use href="#tri" transform="rotate(454.03) translate(641 0)"/>
<use href="#tri" transform="rotate(481.47) translate(641 0)"/>
<use href="#tri" transform="rotate(484.9) translate(641 0)"/>
</g>
<g fill="#fff" stroke="#8f95b0" stroke-width="1.2">
<use href="#star" transform="rotate(231.08) translate(677 0)"/>
<use href="#star" transform="rotate(388.86) translate(677 0)"/>
<use href="#star" transform="rotate(392.29) translate(677 0)"/>
<use href="#star" transform="rotate(395.72) translate(677 0)"/>
<use href="#star" transform="rotate(481.47) translate(677 0)"/>
</g>
<g fill="#0c18e4">
<use href="#star" transform="rotate(416.3) translate(677 0) scale(1.1)"/>
<use href="#star" transform="rotate(419.73) translate(677 0) scale(1.1)"/>
</g>
</g>
</g>
<g id="serotype-labels" class="big">
<text x="365" y="116">EPEC 9</text>
<text x="572" y="43">EPEC 1</text>
<text x="780" y="29">EPEC 6</text>
<text x="1020" y="64">EPEC 4</text>
<text x="1266" y="185">EHEC1 - O157</text>
<text x="1394" y="322">EHEC1 - O55</text>
<text x="1423" y="473">EPEC 5</text>
<text x="1474" y="683">EPEC 15</text>
<text x="1302" y="1126">EPEC 10</text>
<text x="955" y="1318">EPEC 14</text>
<text x="722" y="1367">EPEC 2</text>
<text x="416" y="1304">EHEC2</text>
<text x="233" y="1110">EPEC 12</text>
<text x="144" y="976">EPEC 13</text>
<text x="61" y="798">EPEC 11</text>
<text x="74" y="593">EPEC 7</text>
<text x="214" y="248">EPEC 8</text>
</g>
<g id="legend">
<text class="big" x="73" y="1482" style="text-anchor:start">Philogroups:</text>
<text class="big" x="270" y="1482" style="text-anchor:start">A</text>
<rect x="303" y="1440" width="49" height="40" fill="#ffa09c" stroke="#222" stroke-width="1.5"/>
<text class="big" x="375" y="1482" style="text-anchor:start">B1</text>
<rect x="419" y="1440" width="49" height="40" fill="#cdffb3" stroke="#222" stroke-width="1.5"/>
<text class="big" x="489" y="1482" style="text-anchor:start">B2</text>
<rect x="535" y="1440" width="49" height="40" fill="#bfdefa" stroke="#222" stroke-width="1.5"/>
<text class="big" x="622" y="1482" style="text-anchor:start">E</text>
<rect x="650" y="1440" width="49" height="40" fill="#ffffb4" stroke="#222" stroke-width="1.5"/>
</g>
</svg>
